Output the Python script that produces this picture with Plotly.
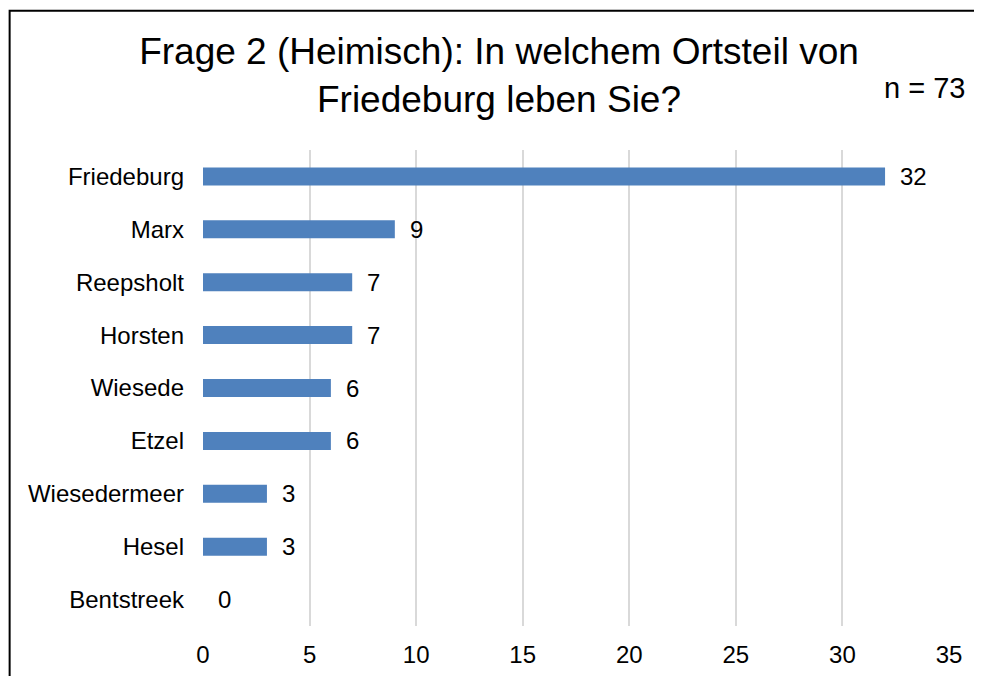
import plotly.graph_objects as go

# daten
ortsteile = ["Friedeburg", "Marx", "Reepsholt", "Horsten", "Wiesede", "Etzel",
             "Wiesedermeer", "Hesel", "Bentstreek"]
anzahl = [32, 9, 7, 7, 6, 6, 3, 3, 0]
x_ticks = [0, 5, 10, 15, 20, 25, 30, 35]
titel = "Frage 2 (Heimisch): In welchem Ortsteil von<br>Friedeburg leben Sie?"
n_text = "n = 73"

# seite hat 8px body-rand -> figur etwas kleiner
OFF = 8
W, H = 982 - OFF, 676 - OFF
ML, MR, MT, MB = 202.5 - OFF, 33, 149.5 - OFF, 49.5
plot_w = W - ML - MR
plot_h = H - MT - MB


# seiten-pixel -> paper
def px_x(p):
    return (p - OFF - ML) / plot_w


def px_y(p):
    return (H - MB - (p - OFF)) / plot_h


fig = go.Figure(
    go.Bar(
        x=anzahl,
        y=ortsteile,
        orientation="h",
        width=0.34,
        marker=dict(color="#4F81BD", line=dict(width=0)),
        hoverinfo="x+y",
    )
)

# werte rechts neben den balken
for o, a in zip(ortsteile, anzahl):
    fig.add_annotation(
        x=a, y=o, xref="x", yref="y", text=str(a), showarrow=False,
        xanchor="left", xshift=13, font=dict(size=24, color="#000000"),
    )

fig.add_annotation(
    x=px_x(967), y=px_y(87), xref="paper", yref="paper", text=n_text,
    showarrow=False, xanchor="right", yanchor="middle",
    font=dict(size=29, color="#000000"),
)

# rahmen oben/links
fig.add_shape(
    type="path", xref="paper", yref="paper",
    path=f"M {px_x(9)} {px_y(700)} L {px_x(9)} {px_y(10)} L {px_x(1000)} {px_y(10)}",
    line=dict(color="#000000", width=2),
)

fig.update_layout(
    width=W, height=H,
    margin=dict(l=ML, r=MR, t=MT, b=MB, autoexpand=False),
    paper_bgcolor="white", plot_bgcolor="white",
    font=dict(family="Liberation Sans, Arial, sans-serif", color="#000000"),
    title=dict(
        text=titel, x=(499 - OFF) / W, xanchor="center", xref="container",
        y=1 - 56 / H, yanchor="top", yref="container",
        font=dict(size=37, color="#000000"),
    ),
    showlegend=False,
)
fig.update_xaxes(
    range=[0, 35], tickvals=x_ticks, showgrid=True, gridcolor="#D9D9D9",
    gridwidth=1.5, zeroline=False, showline=False, ticks="",
    tickfont=dict(size=24), ticklabelstandoff=12,
)
fig.update_yaxes(
    autorange="reversed", showgrid=False, zeroline=False, showline=False,
    ticks="", tickfont=dict(size=24), ticklabelstandoff=18,
)

fig.write_html("out.html")
